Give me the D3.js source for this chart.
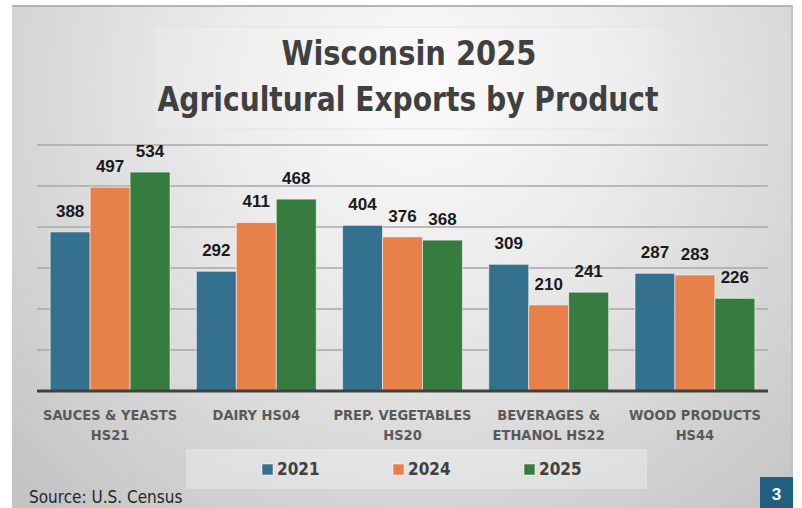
<!DOCTYPE html>
<html>
<head>
<meta charset="utf-8">
<script src="https://cdn.jsdelivr.net/npm/d3@7"></script>
<style>
  body { margin: 0; background: #fff; }
  svg { display: block; }
</style>
</head>
<body>
<script>
// data
var categories = [
  ["SAUCES & YEASTS", "HS21"],
  ["DAIRY HS04"],
  ["PREP. VEGETABLES", "HS20"],
  ["BEVERAGES &", "ETHANOL HS22"],
  ["WOOD PRODUCTS", "HS44"]
];
var seriesNames = ["2021", "2024", "2025"];
var values2021 = [388, 292, 404, 309, 287];
var values2024 = [497, 411, 376, 210, 283];
var values2025 = [534, 468, 368, 241, 226];
var yTicks = [0, 100, 200, 300, 400, 500, 600];

var seriesValues = [values2021, values2024, values2025];
var colors = ["#33718f", "#e8804a", "#367c3e"];

var W = 802, H = 508;
var narrow = '"DejaVu Sans Condensed", "Roboto", sans-serif';

var svg = d3.select("body").append("svg")
    .attr("width", W)
    .attr("height", H);

// slide background
var defs = svg.append("defs");
var grad = defs.append("radialGradient")
    .attr("id", "bg")
    .attr("gradientUnits", "userSpaceOnUse")
    .attr("cx", 420).attr("cy", 90).attr("r", 560);
grad.append("stop").attr("offset", "0%").attr("stop-color", "#fbfbfb");
grad.append("stop").attr("offset", "35%").attr("stop-color", "#ececec");
grad.append("stop").attr("offset", "100%").attr("stop-color", "#c4c4c4");

svg.append("rect")
    .attr("x", 12).attr("y", 6)
    .attr("width", 781).attr("height", H - 6)
    .attr("fill", "url(#bg)");
svg.append("line")
    .attr("x1", 12).attr("x2", 793).attr("y1", 6).attr("y2", 6)
    .attr("stroke", "#b4b4b4").attr("stroke-width", 2);
svg.append("line")
    .attr("x1", 792).attr("x2", 792).attr("y1", 6).attr("y2", H)
    .attr("stroke", "#c2c2c2").attr("stroke-width", 2);

// title box
svg.append("rect")
    .attr("x", 154).attr("y", 27)
    .attr("width", 511).attr("height", 102)
    .attr("fill", "#ffffff").attr("fill-opacity", 0.12)
    .attr("stroke", "#e4e4e4").attr("stroke-width", 1);

var title = svg.append("text")
    .attr("text-anchor", "middle")
    .style("font-family", narrow)
    .style("font-weight", "bold")
    .style("font-size", "33px")
    .attr("fill", "#404040");
title.append("tspan").attr("x", 409).attr("y", 65)
    .attr("textLength", 255).attr("lengthAdjust", "spacingAndGlyphs")
    .text("Wisconsin 2025");
title.append("tspan").attr("x", 408).attr("y", 111)
    .attr("textLength", 501).attr("lengthAdjust", "spacingAndGlyphs")
    .text("Agricultural Exports by Product");

// scales
var x0 = d3.scaleBand()
    .domain(d3.range(categories.length))
    .range([37, 768])
    .paddingInner(0.18)
    .paddingOuter(0.09);
var x1 = d3.scaleBand()
    .domain(d3.range(seriesNames.length))
    .range([0, x0.bandwidth()]);
var y = d3.scaleLinear()
    .domain([0, 600])
    .range([391, 145]);

// gridlines
svg.append("g")
  .selectAll("line")
    .data(yTicks.slice(1))
    .enter()
  .append("line")
    .attr("x1", 37).attr("x2", 768)
    .attr("y1", function (d) { return y(d) })
    .attr("y2", function (d) { return y(d) })
    .attr("stroke", "#a8a8a8")
    .attr("stroke-width", 1.3);

// bars
var groups = svg.append("g")
  .selectAll("g")
    .data(categories)
    .enter()
  .append("g")
    .attr("transform", function (d, i) { return "translate(" + x0(i) + ",0)" });

groups.selectAll("rect")
    .data(function (d, i) { return seriesValues.map(function (s, j) { return { s: j, v: s[i] } }) })
    .enter()
  .append("rect")
    .attr("x", function (d) { return x1(d.s) })
    .attr("y", function (d) { return y(d.v) })
    .attr("width", x1.bandwidth())
    .attr("height", function (d) { return y(0) - y(d.v) })
    .attr("fill", function (d) { return colors[d.s] })
    .attr("stroke", "rgba(255,255,255,0.55)")
    .attr("stroke-width", 1);

// value labels
groups.selectAll("text")
    .data(function (d, i) { return seriesValues.map(function (s, j) { return { s: j, v: s[i] } }) })
    .enter()
  .append("text")
    .attr("x", function (d) { return x1(d.s) + x1.bandwidth() / 2 })
    .attr("y", function (d) { return y(d.v) - 15 })
    .attr("text-anchor", "middle")
    .style("font-family", "'Liberation Sans', Arial, sans-serif")
    .style("font-weight", "bold")
    .style("font-size", "17px")
    .attr("fill", "#1a1a1a")
    .text(function (d) { return d.v });

// baseline
svg.append("line")
    .attr("x1", 37).attr("x2", 768)
    .attr("y1", y(0)).attr("y2", y(0))
    .attr("stroke", "#404040")
    .attr("stroke-width", 3);

// category labels
var catText = svg.append("g")
  .selectAll("text")
    .data(categories)
    .enter()
  .append("text")
    .attr("text-anchor", "middle")
    .style("font-family", narrow)
    .style("font-weight", "bold")
    .style("font-size", "14.5px")
    .attr("fill", "#595959");
catText.selectAll("tspan")
    .data(function (d, i) { return d.map(function (t) { return { t: t, i: i } }) })
    .enter()
  .append("tspan")
    .attr("x", function (d) { return x0(d.i) + x0.bandwidth() / 2 })
    .attr("y", function (d, k) { return 420 + k * 20 })
    .text(function (d) { return d.t });

// legend
svg.append("rect")
    .attr("x", 186).attr("y", 449)
    .attr("width", 461).attr("height", 40)
    .attr("fill", "#ffffff").attr("fill-opacity", 0.3);

var legend = svg.append("g")
  .selectAll("g")
    .data(seriesNames)
    .enter()
  .append("g")
    .attr("transform", function (d, i) { return "translate(" + (262 + i * 131) + ",464)" });
legend.append("rect")
    .attr("width", 11).attr("height", 11)
    .attr("fill", function (d, i) { return colors[i] })
    .attr("stroke", "rgba(255,255,255,0.5)");
legend.append("text")
    .attr("x", 15).attr("y", 10.5)
    .style("font-family", narrow)
    .style("font-weight", "bold")
    .style("font-size", "17px")
    .attr("fill", "#404040")
    .text(function (d) { return d });

// source note
svg.append("text")
    .attr("x", 29).attr("y", 503)
    .style("font-family", narrow)
    .style("font-size", "17px")
    .attr("fill", "#262626")
    .text("Source: U.S. Census");

// slide number
svg.append("rect")
    .attr("x", 760).attr("y", 477)
    .attr("width", 33).attr("height", 31)
    .attr("fill", "#1f5f80");
svg.append("text")
    .attr("x", 776.5).attr("y", 500)
    .attr("text-anchor", "middle")
    .style("font-family", "'Liberation Sans', Arial, sans-serif")
    .style("font-weight", "bold")
    .style("font-size", "17px")
    .attr("fill", "#ffffff")
    .text("3");
</script>
</body>
</html>
